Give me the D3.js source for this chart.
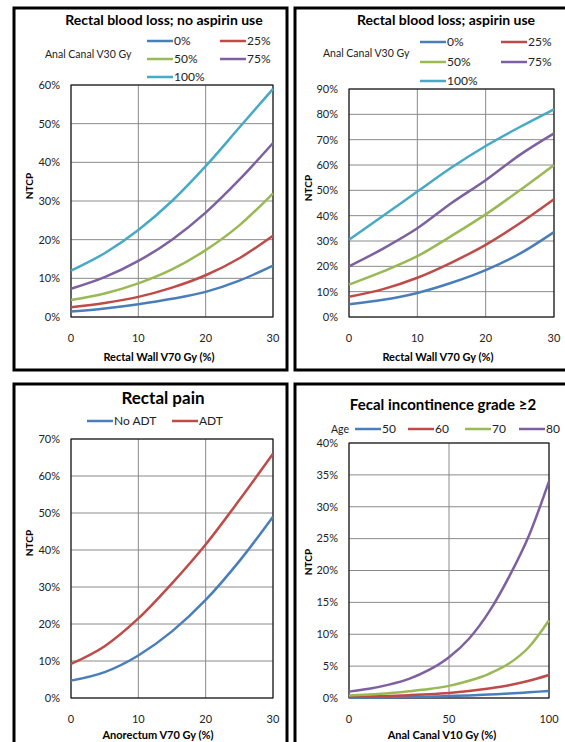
<!DOCTYPE html>
<html>
<head>
<meta charset="utf-8">
<script src="https://cdn.jsdelivr.net/npm/d3@7"></script>
<style>
    body { margin: 0; background: #fff; }
    svg { display: block; font-family: Lato, "Open Sans", sans-serif; }
</style>
</head>
<body>
<svg id="chart" width="565" height="742"></svg>
<script>
// x values
const xRectal = [0, 5, 10, 15, 20, 25, 30];
const xAnal = [0, 10, 20, 30, 40, 50, 60, 70, 80, 90, 100];

// rectal blood loss, no aspirin (NTCP %), by anal canal V30
const noAsp0 = [1.4, 2.2, 3.3, 4.7, 6.5, 9.4, 13.3];
const noAsp25 = [2.5, 3.6, 5.2, 7.6, 10.8, 15.2, 21];
const noAsp50 = [4.4, 6.1, 8.7, 12.3, 17.3, 23.7, 32];
const noAsp75 = [7.3, 10.3, 14.5, 20, 27, 35.5, 45];
const noAsp100 = [12, 16.5, 22.5, 30, 39, 49, 59];

// rectal blood loss, aspirin
const asp0 = [5, 6.8, 9.5, 13.5, 18.5, 25, 33.5];
const asp25 = [8, 11, 15.5, 21.5, 28.5, 37, 46.5];
const asp50 = [12.8, 18, 24, 32, 40.5, 50, 60];
const asp75 = [20, 27, 35, 45, 54, 64, 72.5];
const asp100 = [30.5, 40, 49.5, 59, 67.5, 75, 82];

// rectal pain
const painNoAdt = [4.7, 7, 11.5, 18, 26.5, 37, 49];
const painAdt = [9.2, 14, 21.5, 31, 41.5, 53.5, 66];

// fecal incontinence by age
const fecal50 = [0.05, 0.07, 0.1, 0.15, 0.2, 0.3, 0.4, 0.55, 0.7, 0.9, 1.1];
const fecal60 = [0.2, 0.25, 0.33, 0.45, 0.6, 0.8, 1.1, 1.5, 2.0, 2.7, 3.6];
const fecal70 = [0.4, 0.55, 0.75, 1.05, 1.4, 1.9, 2.7, 3.8, 5.4, 8, 12.2];
const fecal80 = [1.0, 1.45, 2.1, 3.0, 4.4, 6.4, 9.3, 13.5, 19, 25.5, 34];

const blue = "#4a7ebb", red = "#be4b48", green = "#98b954", purple = "#7d60a0", cyan = "#46aac5";

const svg = d3.select("#chart");

// panel frames
[[14, 8, 273, 362], [295, 8, 280, 362], [14, 384, 273, 370], [295, 384, 280, 370]].forEach(b => {
    svg.append("rect")
        .attr("x", b[0]).attr("y", b[1]).attr("width", b[2]).attr("height", b[3])
        .attr("fill", "none").attr("stroke", "#000").attr("stroke-width", 3);
});

function drawPanel (cfg) {
    const g = svg.append("g");
    const x = d3.scaleLinear().domain(cfg.xDomain).range([cfg.l, cfg.r]);
    const y = d3.scaleLinear().domain([0, cfg.yMax]).range([cfg.b, cfg.t]);
    const yTicks = d3.range(0, cfg.yMax + cfg.yStep / 2, cfg.yStep);

    // grid
    g.append("g").selectAll("line").data(yTicks).enter().append("line")
        .attr("x1", cfg.l).attr("x2", cfg.r)
        .attr("y1", d => y(d)).attr("y2", d => y(d))
        .attr("stroke", "#8a8a8a").attr("stroke-width", 1);
    g.append("g").selectAll("line").data(cfg.xTicks).enter().append("line")
        .attr("y1", cfg.t).attr("y2", cfg.b)
        .attr("x1", d => x(d)).attr("x2", d => x(d))
        .attr("stroke", "#8a8a8a").attr("stroke-width", 1);
    g.append("rect")
        .attr("x", cfg.l).attr("y", cfg.t).attr("width", cfg.r - cfg.l).attr("height", cfg.b - cfg.t)
        .attr("fill", "none").attr("stroke", "#000").attr("stroke-width", 1);

    // tick labels
    g.append("g").selectAll("text").data(yTicks).enter().append("text")
        .attr("x", cfg.l - 11).attr("y", d => y(d)).attr("dy", "0.35em")
        .attr("text-anchor", "end").attr("font-size", 11).attr("fill", "#222")
        .text(d => Math.round(d) + "%");
    g.append("g").selectAll("text").data(cfg.xTicks).enter().append("text")
        .attr("x", d => x(d)).attr("y", cfg.b + 25)
        .attr("text-anchor", "middle").attr("font-size", 11).attr("fill", "#222")
        .text(d => d);

    // axis titles
    g.append("text")
        .attr("x", cfg.xTitle[0]).attr("y", cfg.xTitle[1])
        .attr("text-anchor", "middle").attr("font-size", 11).attr("font-weight", "bold")
        .text(cfg.xLabel);
    g.append("text")
        .attr("transform", "translate(" + cfg.yTitle[0] + "," + cfg.yTitle[1] + ") rotate(-90)")
        .attr("text-anchor", "middle").attr("font-size", 10).attr("font-weight", "bold")
        .text("NTCP");

    // chart title
    g.append("text")
        .attr("x", cfg.title[0]).attr("y", cfg.title[1]).attr("dy", "0.35em")
        .attr("text-anchor", "middle").attr("font-size", cfg.titleSize).attr("font-weight", "bold")
        .text(cfg.titleText);

    // series
    const line = d3.line()
        .x((d, i) => x(cfg.xs[i]))
        .y(d => y(d))
        .curve(d3.curveMonotoneX);
    g.append("g").selectAll("path").data(cfg.series).enter().append("path")
        .attr("d", d => line(d.values))
        .attr("fill", "none").attr("stroke", d => d.color).attr("stroke-width", 2.5);

    // legend
    if (cfg.legendTitle) {
        g.append("text")
            .attr("x", cfg.legendTitle[0]).attr("y", cfg.legendTitle[1]).attr("dy", "0.35em")
            .attr("font-size", 10.5).attr("fill", "#222")
            .text(cfg.legendTitle[2]);
    }
    const item = g.append("g").selectAll("g").data(cfg.series).enter().append("g")
        .attr("transform", (d, i) => "translate(" + cfg.legendPos[i][0] + "," + cfg.legendPos[i][1] + ")");
    item.append("line")
        .attr("x1", -26).attr("x2", 0)
        .attr("stroke", d => d.color).attr("stroke-width", 2.5);
    item.append("text")
        .attr("x", 1).attr("dy", "0.35em")
        .attr("font-size", cfg.legendSize).attr("fill", "#222")
        .text(d => d.name);
}

drawPanel({
    l: 71, r: 273, t: 85, b: 317,
    xDomain: [0, 30], xTicks: [0, 10, 20, 30], xs: xRectal,
    yMax: 60, yStep: 10,
    titleText: "Rectal blood loss; no aspirin use", title: [164, 20], titleSize: 14,
    xLabel: "Rectal Wall  V70 Gy (%)", xTitle: [159, 361], yTitle: [33, 186],
    legendTitle: [45, 54, "Anal Canal  V30 Gy"], legendSize: 12,
    legendPos: [[173, 41], [246, 41], [173, 59], [246, 59], [173, 77]],
    series: [
        {name: "0%", values: noAsp0, color: blue},
        {name: "25%", values: noAsp25, color: red},
        {name: "50%", values: noAsp50, color: green},
        {name: "75%", values: noAsp75, color: purple},
        {name: "100%", values: noAsp100, color: cyan}
    ]
});

drawPanel({
    l: 349, r: 554, t: 89, b: 317,
    xDomain: [0, 30], xTicks: [0, 10, 20, 30], xs: xRectal,
    yMax: 90, yStep: 10,
    titleText: "Rectal blood loss; aspirin use", title: [446, 20], titleSize: 14,
    xLabel: "Rectal Wall  V70 Gy (%)", xTitle: [438, 361], yTitle: [312, 188],
    legendTitle: [323, 53, "Anal Canal  V30 Gy"], legendSize: 12,
    legendPos: [[446, 42], [527, 42], [446, 62], [527, 62], [446, 81]],
    series: [
        {name: "0%", values: asp0, color: blue},
        {name: "25%", values: asp25, color: red},
        {name: "50%", values: asp50, color: green},
        {name: "75%", values: asp75, color: purple},
        {name: "100%", values: asp100, color: cyan}
    ]
});

drawPanel({
    l: 71, r: 273, t: 439, b: 698,
    xDomain: [0, 30], xTicks: [0, 10, 20, 30], xs: xRectal,
    yMax: 70, yStep: 10,
    titleText: "Rectal pain", title: [163, 398], titleSize: 17,
    xLabel: "Anorectum V70 Gy (%)", xTitle: [158, 739], yTitle: [33, 543],
    legendTitle: null, legendSize: 12,
    legendPos: [[113, 421], [198, 421]],
    series: [
        {name: "No ADT", values: painNoAdt, color: blue},
        {name: "ADT", values: painAdt, color: red}
    ]
});

drawPanel({
    l: 349, r: 549, t: 443, b: 698,
    xDomain: [0, 100], xTicks: [0, 50, 100], xs: xAnal,
    yMax: 40, yStep: 5,
    titleText: "Fecal incontinence grade \u22652", title: [443, 405], titleSize: 15,
    xLabel: "Anal Canal  V10 Gy (%)", xTitle: [442, 739], yTitle: [312, 562],
    legendTitle: [331, 429, "Age"], legendSize: 12,
    legendPos: [[381, 429], [434, 429], [491, 429], [545, 429]],
    series: [
        {name: "50", values: fecal50, color: blue},
        {name: "60", values: fecal60, color: red},
        {name: "70", values: fecal70, color: green},
        {name: "80", values: fecal80, color: purple}
    ]
});
</script>
</body>
</html>
